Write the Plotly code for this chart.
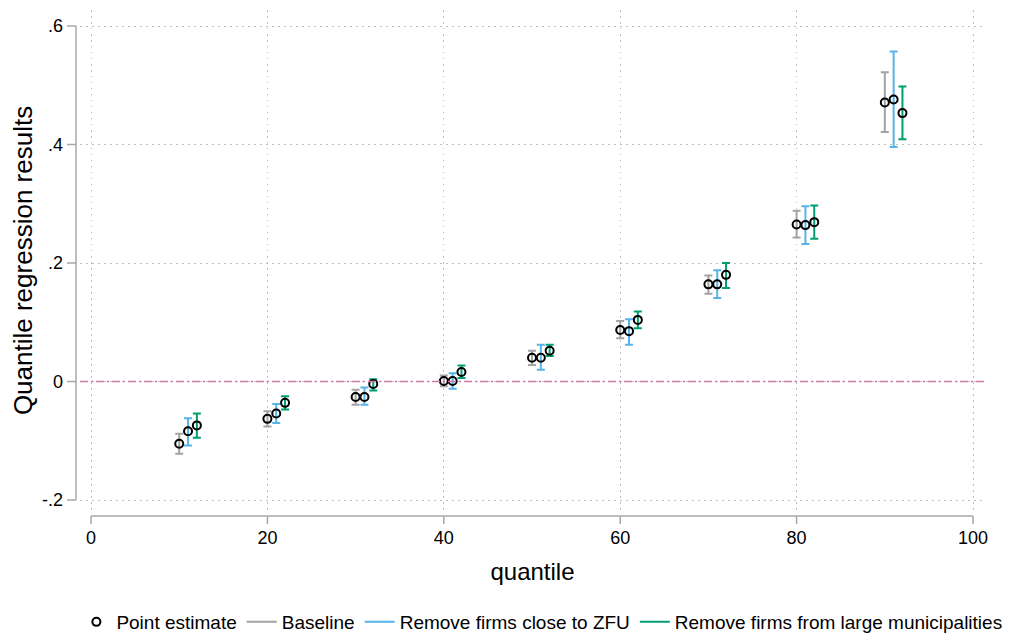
import numpy as np
import plotly.graph_objects as go

# ---- data ----
quantiles = [10, 20, 30, 40, 50, 60, 70, 80, 90]

baseline_est = [-0.105, -0.063, -0.026, 0.001, 0.040, 0.087, 0.164, 0.265, 0.471]
baseline_lo = [-0.122, -0.076, -0.039, -0.008, 0.028, 0.073, 0.148, 0.243, 0.421]
baseline_hi = [-0.088, -0.050, -0.014, 0.010, 0.052, 0.102, 0.179, 0.288, 0.522]

zfu_est = [-0.084, -0.054, -0.026, 0.001, 0.040, 0.085, 0.164, 0.264, 0.476]
zfu_lo = [-0.108, -0.070, -0.039, -0.012, 0.020, 0.062, 0.141, 0.232, 0.396]
zfu_hi = [-0.062, -0.038, -0.010, 0.014, 0.062, 0.105, 0.188, 0.296, 0.557]

large_est = [-0.074, -0.036, -0.004, 0.016, 0.052, 0.104, 0.180, 0.269, 0.453]
large_lo = [-0.095, -0.047, -0.015, 0.006, 0.043, 0.090, 0.158, 0.241, 0.409]
large_hi = [-0.054, -0.025, 0.004, 0.027, 0.062, 0.118, 0.200, 0.297, 0.498]

series_names = ["Baseline", "Remove firms close to ZFU", "Remove firms from large municipalities"]
series_colors = ["#A3A3A3", "#56B4E9", "#009E73"]
series_shift = [0, 1, 2]

x_ticks = [0, 20, 40, 60, 80, 100]
y_ticks = [-0.2, 0, 0.2, 0.4, 0.6]
y_tick_text = ["-.2", "0", ".2", ".4", ".6"]

FONT = "Liberation Sans, Arial, Helvetica, sans-serif"
AXIS_COLOR = "#A8A8A8"
GRID_COLOR = "#BEBEBE"

series = [
    (baseline_est, baseline_lo, baseline_hi),
    (zfu_est, zfu_lo, zfu_hi),
    (large_est, large_lo, large_hi),
]

fig = go.Figure()

all_x, all_y = [], []
for (est, lo, hi), name, color, shift in zip(series, series_names, series_colors, series_shift):
    est_a, lo_a, hi_a = np.array(est), np.array(lo), np.array(hi)
    xs = np.array(quantiles) + shift
    fig.add_trace(go.Scatter(
        x=xs, y=est_a, mode="markers",
        marker=dict(size=1, color="rgba(0,0,0,0)"),
        error_y=dict(type="data", symmetric=False,
                     array=hi_a - est_a, arrayminus=est_a - lo_a,
                     color=color, thickness=2, width=4),
        showlegend=False, hoverinfo="skip",
    ))
    all_x.extend(xs.tolist())
    all_y.extend(est)

fig.add_trace(go.Scatter(
    x=all_x, y=all_y, mode="markers", name="Point estimate",
    marker=dict(symbol="circle-open", size=8, color="black", line=dict(width=2, color="black")),
    legendrank=1,
))

for i, (name, color) in enumerate(zip(series_names, series_colors)):
    fig.add_trace(go.Scatter(
        x=[None], y=[None], mode="lines", name=name,
        line=dict(color=color, width=2), legendrank=2 + i,
    ))

# reference line at zero
fig.add_hline(y=0, line=dict(color="#CC79A7", width=1.5, dash="8px,3px,2px,3px"))

# Stata-style axis lines spanning only the tick range, with outward ticks
shapes = []
ypix = 501.0
xpix = 905.0
ax_x = -4 / xpix
shapes.append(dict(type="line", xref="paper", yref="y", x0=ax_x, x1=ax_x,
                   y0=min(y_ticks), y1=max(y_ticks), line=dict(color=AXIS_COLOR, width=1.5)))
for t in y_ticks:
    shapes.append(dict(type="line", xref="paper", yref="y", x0=ax_x - 9 / xpix, x1=ax_x,
                       y0=t, y1=t, line=dict(color=AXIS_COLOR, width=1.5)))
ax_y = -5 / ypix
shapes.append(dict(type="line", xref="x", yref="paper", x0=min(x_ticks), x1=max(x_ticks),
                   y0=ax_y, y1=ax_y, line=dict(color=AXIS_COLOR, width=1.5)))
for t in x_ticks:
    shapes.append(dict(type="line", xref="x", yref="paper", x0=t, x1=t,
                       y0=ax_y - 8 / ypix, y1=ax_y, line=dict(color=AXIS_COLOR, width=1.5)))
fig.update_layout(shapes=list(fig.layout.shapes) + shapes)

# the page body adds an 8px margin, so the figure is 8px smaller on each axis
fig.update_layout(
    width=1003, height=627,
    margin=dict(l=72, r=26, t=2, b=124, autoexpand=False),
    paper_bgcolor="white", plot_bgcolor="white",
    font=dict(family=FONT, color="black"),
    xaxis=dict(
        range=[-1.25, 101.36], tickvals=x_ticks, ticks="",
        showgrid=True, gridcolor=GRID_COLOR, griddash="1.5px,4.5px", gridwidth=1,
        zeroline=False, showline=False, automargin=False,
        tickfont=dict(size=18), ticklabelstandoff=14,
        title=dict(text="quantile", font=dict(size=24), standoff=16),
    ),
    yaxis=dict(
        range=[-0.2185, 0.627], tickvals=y_ticks, ticktext=y_tick_text, ticks="",
        showgrid=True, gridcolor=GRID_COLOR, griddash="1.5px,4.5px", gridwidth=1,
        zeroline=False, showline=False, automargin=False,
        tickfont=dict(size=18), ticklabelstandoff=16,
        title=dict(text="Quantile regression results", font=dict(size=26), standoff=6),
    ),
    legend=dict(
        orientation="h", x=-0.004, xanchor="left", y=-0.2216, yanchor="middle",
        font=dict(size=19), bgcolor="rgba(0,0,0,0)", itemwidth=30,
    ),
)

fig.write_html("out.html")
